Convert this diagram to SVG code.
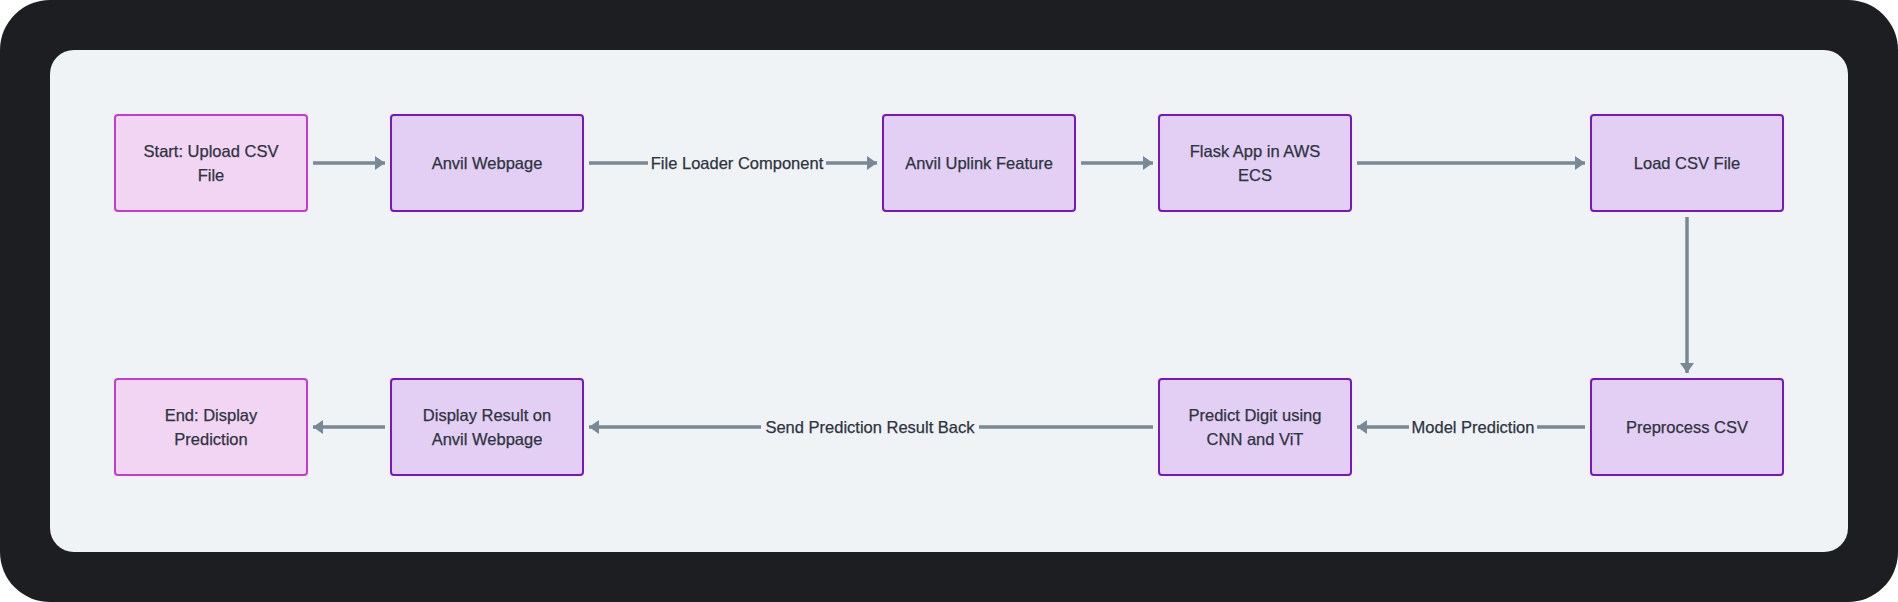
<svg xmlns="http://www.w3.org/2000/svg" width="1898" height="602" viewBox="0 0 1898 602">
<style>
.n rect{fill:#e3cff3;stroke:#7716c2;stroke-width:2}
.t rect{fill:#f1d5f3;stroke:#c23cd0;stroke-width:2}
text{font-family:"Liberation Sans",Arial,sans-serif;font-size:16.5px;fill:#2e3440;stroke:#2e3440;stroke-width:0.25;text-anchor:middle}
.e line{stroke:#798895;stroke-width:3.5}
.lb{fill:#eff3f6}
</style>
<defs>
<marker id="ah" viewBox="0 0 10 14" refX="10" refY="7" markerWidth="10" markerHeight="14" markerUnits="userSpaceOnUse" orient="auto"><path d="M0,0 L10,7 L0,14 Z" fill="#798895"/></marker>
</defs>
<rect x="0" y="0" width="1898" height="602" rx="50" fill="#1d1e21"/>
<rect x="50" y="50" width="1798" height="502" rx="24" fill="#eff3f6"/>
<g id="connectors" class="e">
<line x1="313" y1="163" x2="385" y2="163" marker-end="url(#ah)"/>
<line x1="589" y1="163" x2="877" y2="163" marker-end="url(#ah)"/>
<rect class="lb" x="648" y="150" width="178" height="26"/><text x="737" y="169">File Loader Component</text>
<line x1="1081" y1="163" x2="1153" y2="163" marker-end="url(#ah)"/>
<line x1="1357" y1="163" x2="1585" y2="163" marker-end="url(#ah)"/>
<line x1="1687" y1="217" x2="1687" y2="373" marker-end="url(#ah)"/>
<line x1="1585" y1="427" x2="1357" y2="427" marker-end="url(#ah)"/>
<rect class="lb" x="1409" y="414" width="128" height="26"/><text x="1473" y="433">Model Prediction</text>
<line x1="1153" y1="427" x2="589" y2="427" marker-end="url(#ah)"/>
<rect class="lb" x="761" y="414" width="218" height="26"/><text x="870" y="433">Send Prediction Result Back</text>
<line x1="385" y1="427" x2="313" y2="427" marker-end="url(#ah)"/>
</g>
<g id="start" class="t"><rect x="115" y="115" width="192" height="96" rx="3"/><text x="211" y="157">Start: Upload CSV</text><text x="211" y="181">File</text></g>
<g id="anvil" class="n"><rect x="391" y="115" width="192" height="96" rx="3"/><text x="487" y="169">Anvil Webpage</text></g>
<g id="uplink" class="n"><rect x="883" y="115" width="192" height="96" rx="3"/><text x="979" y="169">Anvil Uplink Feature</text></g>
<g id="flask" class="n"><rect x="1159" y="115" width="192" height="96" rx="3"/><text x="1255" y="157">Flask App in AWS</text><text x="1255" y="181">ECS</text></g>
<g id="load" class="n"><rect x="1591" y="115" width="192" height="96" rx="3"/><text x="1687" y="169">Load CSV File</text></g>
<g id="pre" class="n"><rect x="1591" y="379" width="192" height="96" rx="3"/><text x="1687" y="433">Preprocess CSV</text></g>
<g id="predict" class="n"><rect x="1159" y="379" width="192" height="96" rx="3"/><text x="1255" y="421">Predict Digit using</text><text x="1255" y="445">CNN and ViT</text></g>
<g id="display" class="n"><rect x="391" y="379" width="192" height="96" rx="3"/><text x="487" y="421">Display Result on</text><text x="487" y="445">Anvil Webpage</text></g>
<g id="end" class="t"><rect x="115" y="379" width="192" height="96" rx="3"/><text x="211" y="421">End: Display</text><text x="211" y="445">Prediction</text></g>
</svg>
